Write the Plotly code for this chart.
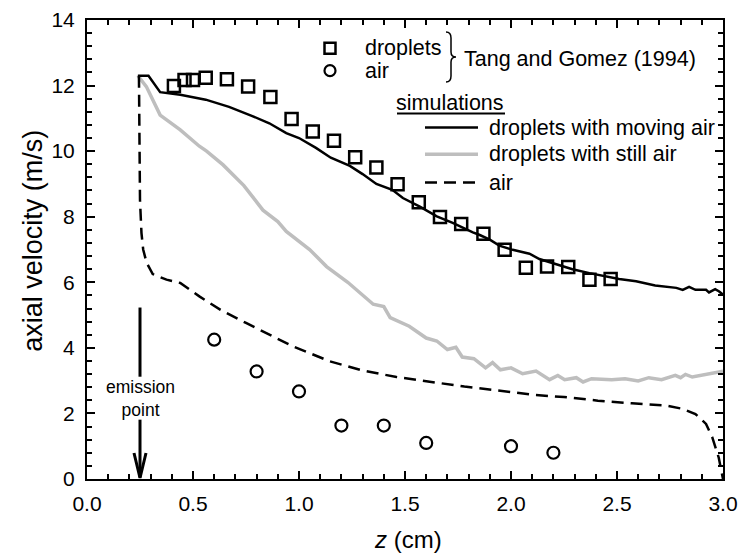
import plotly.graph_objects as go

# ---- data ----
exp_drop_z = [0.41, 0.46, 0.50, 0.56, 0.66, 0.76, 0.865, 0.965, 1.065, 1.165, 1.265, 1.365,
              1.465, 1.565, 1.665, 1.765, 1.87, 1.97, 2.07, 2.17, 2.27, 2.37, 2.47]
exp_drop_v = [11.99, 12.17, 12.17, 12.24, 12.19, 11.97, 11.65, 10.98, 10.60, 10.32, 9.81, 9.50,
              8.99, 8.44, 7.99, 7.78, 7.48, 6.99, 6.44, 6.48, 6.47, 6.08, 6.10]

exp_air_z = [0.6, 0.8, 1.0, 1.2, 1.4, 1.6, 2.0, 2.2]
exp_air_v = [4.25, 3.28, 2.67, 1.63, 1.63, 1.10, 1.00, 0.80]

sim_moving_z = [0.24, 0.29, 0.345, 0.44, 0.56, 0.67, 0.78, 0.86, 0.94, 1.0, 1.08, 1.15, 1.24,
                1.30, 1.365, 1.44, 1.49, 1.57, 1.65, 1.725, 1.82, 1.85, 1.90, 1.945, 2.008,
                2.087, 2.134, 2.21, 2.29, 2.37, 2.44, 2.51, 2.59, 2.68, 2.78, 2.81, 2.84, 2.87,
                2.92, 2.934, 2.963, 2.982, 3.0]
sim_moving_v = [12.3, 12.3, 11.8, 11.72, 11.57, 11.35, 11.07, 10.85, 10.55, 10.4, 10.1, 9.8, 9.55,
                9.3, 9.0, 8.82, 8.57, 8.31, 8.01, 7.81, 7.52, 7.45, 7.30, 7.12, 6.99,
                6.87, 6.71, 6.55, 6.40, 6.28, 6.18, 6.10, 6.03, 5.90, 5.83, 5.77, 5.86, 5.77,
                5.77, 5.69, 5.79, 5.72, 5.62]

sim_still_z = [0.24, 0.28, 0.345, 0.44, 0.53, 0.564, 0.642, 0.74, 0.83, 0.90, 0.94, 0.97, 1.05,
               1.13, 1.23, 1.35, 1.40, 1.43, 1.52, 1.60, 1.65, 1.70, 1.74, 1.77, 1.825, 1.88,
               1.913, 1.95, 2.0, 2.055, 2.118, 2.182, 2.221, 2.253, 2.308, 2.34, 2.38, 2.475,
               2.538, 2.60, 2.65, 2.71, 2.775, 2.80, 2.823, 2.855, 2.934, 3.0]
sim_still_v = [12.3, 11.97, 11.1, 10.65, 10.15, 10.0, 9.58, 8.95, 8.2, 7.85, 7.55, 7.40, 7.0,
               6.48, 6.0, 5.33, 5.26, 4.92, 4.66, 4.30, 4.21, 3.95, 4.02, 3.72, 3.67, 3.39,
               3.55, 3.33, 3.39, 3.21, 3.29, 3.03, 3.16, 3.03, 3.09, 2.96, 3.06, 3.03,
               3.06, 2.99, 3.09, 3.03, 3.16, 3.09, 3.19, 3.11, 3.21, 3.29]

sim_air_z = [0.245, 0.246, 0.248, 0.25, 0.257, 0.265, 0.281, 0.31, 0.375, 0.44, 0.53, 0.63, 0.75,
             0.88, 0.97, 1.145, 1.30, 1.46, 1.62, 1.78, 1.94, 2.10, 2.25, 2.41, 2.57, 2.73,
             2.81, 2.87, 2.92, 2.95, 2.98, 3.0]
sim_air_v = [12.3, 11.0, 10.0, 8.5, 7.5, 7.0, 6.6, 6.25, 6.08, 5.98, 5.57, 5.16, 4.76,
             4.35, 4.05, 3.59, 3.31, 3.11, 2.96, 2.82, 2.70, 2.57, 2.50, 2.39, 2.31, 2.24,
             2.14, 1.98, 1.68, 1.26, 0.65, 0.0]

x_ticks = [0.0, 0.5, 1.0, 1.5, 2.0, 2.5, 3.0]
x_ticklabels = ["0.0", "0.5", "1.0", "1.5", "2.0", "2.5", "3.0"]
y_ticks = [0, 2, 4, 6, 8, 10, 12, 14]

emission_z = 0.25

FONT = "Liberation Sans, Arial, sans-serif"
GRAY = "#bebebe"
DASH = "12px,7px"

fig = go.Figure()
fig.add_trace(go.Scatter(x=sim_still_z, y=sim_still_v, mode="lines",
                         line=dict(color=GRAY, width=3.5), showlegend=False))
fig.add_trace(go.Scatter(x=sim_air_z, y=sim_air_v, mode="lines",
                         line=dict(color="black", width=2.5, dash=DASH), showlegend=False))
fig.add_trace(go.Scatter(x=sim_moving_z, y=sim_moving_v, mode="lines",
                         line=dict(color="black", width=2.5), showlegend=False))
fig.add_trace(go.Scatter(x=exp_drop_z, y=exp_drop_v, mode="markers",
                         marker=dict(symbol="square-open", size=12, color="black",
                                     line=dict(width=2.5, color="black")), showlegend=False))
fig.add_trace(go.Scatter(x=exp_air_z, y=exp_air_v, mode="markers",
                         marker=dict(symbol="circle-open", size=12, color="black",
                                     line=dict(width=2.2, color="black")), showlegend=False))

tick_common = dict(ticks="inside", tickcolor="black", tickwidth=2, ticklen=8,
                   showgrid=False, zeroline=False, automargin=False)
minor_x = dict(dtick=0.1, tick0=0, ticks="inside", ticklen=5, tickwidth=2,
               tickcolor="black", showgrid=False)
minor_y = dict(dtick=0.4, tick0=0, ticks="inside", ticklen=5, tickwidth=2,
               tickcolor="black", showgrid=False)

fig.update_layout(
    xaxis=dict(range=[0, 3.0], tickmode="array", tickvals=x_ticks, ticktext=x_ticklabels,
               minor=minor_x, showline=True, linecolor="black", linewidth=2,
               tickfont=dict(family=FONT, size=21, color="black"),
               ticklabelstandoff=5, **tick_common),
    yaxis=dict(range=[0, 14], tickmode="array", tickvals=y_ticks,
               minor=minor_y, showline=True, linecolor="black", linewidth=2,
               tickfont=dict(family=FONT, size=21, color="black"),
               ticklabelstandoff=6, **tick_common),
    xaxis2=dict(range=[0, 3.0], overlaying="x", side="top", matches="x",
                tickmode="array", tickvals=x_ticks, showticklabels=False, minor=minor_x,
                showline=True, linecolor="black", linewidth=2, **tick_common),
    yaxis2=dict(range=[0, 14], overlaying="y", side="right", matches="y",
                tickmode="array", tickvals=y_ticks, showticklabels=False, minor=minor_y,
                showline=True, linecolor="black", linewidth=2, **tick_common),
)
# invisible carrier trace so the mirrored axes get drawn
fig.add_trace(go.Scatter(x=[None], y=[None], xaxis="x2", yaxis="y2", mode="lines",
                         showlegend=False, hoverinfo="skip"))


def px2paper_x(px):
    return (px - 87) / 636.0


def px2paper_y(py):
    return (479.5 - py) / 459.5


annotations = []
shapes = []

# axis titles
annotations.append(dict(text="axial velocity (m/s)", xref="paper", yref="paper",
                        x=px2paper_x(33), y=px2paper_y(241), textangle=-90, showarrow=False,
                        xanchor="center", yanchor="middle",
                        font=dict(family=FONT, size=27, color="black")))
annotations.append(dict(text="<i>z</i> (cm)", xref="paper", yref="paper",
                        x=px2paper_x(408), y=px2paper_y(540), showarrow=False,
                        xanchor="center", yanchor="middle",
                        font=dict(family=FONT, size=24, color="black")))

# legend: experimental
shapes.append(dict(type="rect", xref="paper", yref="paper", xsizemode="pixel", ysizemode="pixel",
                   xanchor=px2paper_x(330), yanchor=px2paper_y(48.3),
                   x0=-5.5, x1=5.5, y0=-5.5, y1=5.5, line=dict(color="black", width=2.5)))
shapes.append(dict(type="circle", xref="paper", yref="paper", xsizemode="pixel", ysizemode="pixel",
                   xanchor=px2paper_x(330), yanchor=px2paper_y(70.7),
                   x0=-5.5, x1=5.5, y0=-5.5, y1=5.5, line=dict(color="black", width=2.2)))
annotations.append(dict(text="droplets", xref="paper", yref="paper", x=px2paper_x(363),
                        y=px2paper_y(48.3), xanchor="left", yanchor="middle", showarrow=False,
                        font=dict(family=FONT, size=21.5, color="black")))
annotations.append(dict(text="air", xref="paper", yref="paper", x=px2paper_x(363),
                        y=px2paper_y(70.7), xanchor="left", yanchor="middle", showarrow=False,
                        font=dict(family=FONT, size=21.5, color="black")))
# brace
shapes.append(dict(type="path", xref="paper", yref="paper", xsizemode="pixel", ysizemode="pixel",
                   xanchor=px2paper_x(450), yanchor=px2paper_y(57),
                   path="M -4,25 Q 1,25 1,19 L 1,5 Q 1,0 6,0 Q 1,0 1,-5 L 1,-19 Q 1,-25 -4,-25",
                   line=dict(color="black", width=1.5)))
annotations.append(dict(text="Tang and Gomez (1994)", xref="paper", yref="paper",
                        x=px2paper_x(462), y=px2paper_y(59), xanchor="left", yanchor="middle",
                        showarrow=False, font=dict(family=FONT, size=21.5, color="black")))

# legend: simulations
annotations.append(dict(text="simulations", xref="paper", yref="paper",
                        x=px2paper_x(394), y=px2paper_y(103), xanchor="left", yanchor="middle",
                        showarrow=False, font=dict(family=FONT, size=21.5, color="black")))
shapes.append(dict(type="line", xref="paper", yref="paper",
                   x0=px2paper_x(397), x1=px2paper_x(505), y0=px2paper_y(113.5), y1=px2paper_y(113.5),
                   line=dict(color="black", width=2)))
leg_rows = [(127.7, "droplets with moving air", dict(color="black", width=2.5)),
            (154.5, "droplets with still air", dict(color=GRAY, width=3.5)),
            (182.7, "air", dict(color="black", width=2.5, dash=DASH))]
for py, label, ln in leg_rows:
    shapes.append(dict(type="line", xref="paper", yref="paper",
                       x0=px2paper_x(425), x1=px2paper_x(478), y0=px2paper_y(py), y1=px2paper_y(py),
                       line=ln))
    annotations.append(dict(text=label, xref="paper", yref="paper",
                            x=px2paper_x(487), y=px2paper_y(py), xanchor="left", yanchor="middle",
                            showarrow=False, font=dict(family=FONT, size=21.5, color="black")))

# emission point arrow
shapes.append(dict(type="line", xref="x", yref="y", x0=emission_z, x1=emission_z, y0=5.23, y1=3.12,
                   line=dict(color="black", width=3)))
shapes.append(dict(type="line", xref="x", yref="y", x0=emission_z, x1=emission_z, y0=1.81, y1=0.05,
                   line=dict(color="black", width=3)))
shapes.append(dict(type="path", xref="x", yref="y", xsizemode="pixel", ysizemode="pixel",
                   xanchor=emission_z, yanchor=0,
                   path="M -6,26 L 0,1 L 6,26", line=dict(color="black", width=3)))
annotations.append(dict(text="emission<br>point", xref="x", yref="y", x=emission_z, y=2.45,
                        xanchor="center", yanchor="middle", showarrow=False,
                        font=dict(family=FONT, size=17.5, color="black")))

fig.update_layout(width=741, height=559, margin=dict(l=87, r=18, t=20, b=79.5),
                  paper_bgcolor="white", plot_bgcolor="white",
                  annotations=annotations, shapes=shapes, showlegend=False)

fig.write_html("out.html", config={"displayModeBar": False},
               post_script="document.body.style.margin='0';document.body.style.overflow='hidden';")
